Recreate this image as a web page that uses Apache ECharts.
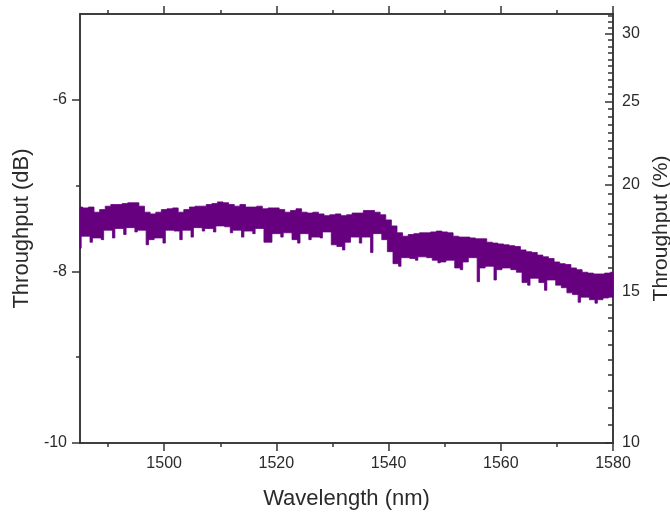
<!DOCTYPE html>
<html>
<head>
<meta charset="utf-8">
<script src="https://cdn.jsdelivr.net/npm/echarts@6/dist/echarts.min.js"></script>
<style>
  html, body { margin: 0; padding: 0; background: #fff; }
  #chart { width: 670px; height: 513px; }
</style>
</head>
<body>
<div id="chart"></div>
<script>
// ---------- data ----------
var wavelength = [
  1485,1486,1487,1488,1489,1490,1491,1492,1493,1494,1495,1496,1497,1498,1499,
  1500,1501,1502,1503,1504,1505,1506,1507,1508,1509,1510,1511,1512,1513,1514,
  1515,1516,1517,1518,1519,1520,1521,1522,1523,1524,1525,1526,1527,1528,1529,
  1530,1531,1532,1533,1534,1535,1536,1537,1538,1539,1540,1541,1542,1543,1544,
  1545,1546,1547,1548,1549,1550,1551,1552,1553,1554,1555,1556,1557,1558,1559,
  1560,1561,1562,1563,1564,1565,1566,1567,1568,1569,1570,1571,1572,1573,1574,
  1575,1576,1577,1578,1579,1580
];
// upper edge of the noisy trace (dB)
var upperDb = [
  -7.25,-7.26,-7.25,-7.31,-7.28,-7.24,-7.22,-7.22,-7.21,-7.20,-7.20,-7.24,-7.31,-7.33,-7.31,
  -7.28,-7.27,-7.26,-7.31,-7.28,-7.25,-7.24,-7.24,-7.22,-7.21,-7.19,-7.20,-7.22,-7.24,-7.22,
  -7.25,-7.25,-7.24,-7.27,-7.26,-7.26,-7.28,-7.31,-7.29,-7.27,-7.31,-7.32,-7.31,-7.33,-7.35,
  -7.34,-7.33,-7.35,-7.34,-7.32,-7.32,-7.29,-7.29,-7.31,-7.34,-7.40,-7.47,-7.55,-7.59,-7.57,
  -7.56,-7.55,-7.55,-7.54,-7.53,-7.54,-7.55,-7.59,-7.60,-7.60,-7.61,-7.62,-7.62,-7.66,-7.67,
  -7.68,-7.69,-7.70,-7.71,-7.75,-7.77,-7.78,-7.81,-7.83,-7.85,-7.89,-7.91,-7.92,-7.96,-7.98,
  -8.01,-8.02,-8.03,-8.03,-8.02,-8.01
];
// lower edge of the noisy trace (dB), including the downward spikes
var lowerDb = [
  -7.73,-7.59,-7.66,-7.61,-7.63,-7.52,-7.61,-7.50,-7.57,-7.49,-7.54,-7.52,-7.69,-7.63,-7.61,
  -7.67,-7.52,-7.53,-7.63,-7.52,-7.60,-7.49,-7.53,-7.50,-7.54,-7.47,-7.48,-7.55,-7.52,-7.60,
  -7.53,-7.56,-7.50,-7.66,-7.66,-7.56,-7.60,-7.55,-7.63,-7.67,-7.56,-7.63,-7.60,-7.61,-7.54,
  -7.69,-7.71,-7.75,-7.66,-7.60,-7.67,-7.60,-7.78,-7.56,-7.63,-7.77,-7.91,-7.94,-7.84,-7.85,
  -7.87,-7.83,-7.84,-7.87,-7.90,-7.89,-7.87,-7.96,-7.98,-7.89,-7.84,-8.12,-7.96,-7.94,-8.10,
  -7.98,-7.96,-7.98,-8.01,-8.13,-8.16,-8.08,-8.13,-8.22,-8.10,-8.16,-8.19,-8.25,-8.27,-8.36,
  -8.30,-8.33,-8.37,-8.33,-8.31,-8.30
];

// ---------- axes / ticks ----------
var xMajorTicks = [1500, 1520, 1540, 1560, 1580];
var xMinorTicks = [1490, 1510, 1530, 1550, 1570];
var yMajorTicks = [-10, -8, -6];
var yMinorTicks = [-9, -7];
var pctMajorTicks = [10, 15, 20, 25, 30];
var pctMinorTicks = [10.5,11,11.5,12,12.5,13,13.5,14,14.5,15.5,16,16.5,17,17.5,18,18.5,19,19.5,
                     20.5,21,21.5,22,22.5,23,23.5,24,24.5,25.5,26,26.5,27,27.5,28,28.5,29,29.5,30.5,31,31.5];

function pctToDb(p) { return 10 * Math.log10(p / 100); }
function dbToPct(d) { return 100 * Math.pow(10, d / 10); }

var FONT = "'Liberation Sans', Arial, sans-serif";
var TXT = '#2a2a2a';
var AX = '#333333';
var PURPLE = '#66007f';

var lineStyle = { color: AX, width: 1.5 };

function xAx(pos, ticks, len, withLabels, name) {
  return {
    type: 'value', position: pos, min: 1485, max: 1580,
    name: name || '', nameLocation: 'middle', nameGap: 45,
    nameTextStyle: { fontFamily: FONT, fontSize: 22, color: TXT },
    axisLine: { show: true, onZero: false, lineStyle: lineStyle },
    axisTick: { show: true, inside: false, length: len, customValues: ticks, lineStyle: lineStyle },
    axisLabel: withLabels ? {
      show: true, customValues: ticks, margin: 13, fontFamily: FONT, fontSize: 16, color: TXT,
      formatter: function (v) { return String(v); }
    } : { show: false },
    splitLine: { show: false }
  };
}

var seriesData = wavelength.map(function (w, i) { return [w, upperDb[i], lowerDb[i]]; });

var option = {
  backgroundColor: '#ffffff',
  animation: false,
  grid: { left: 80, right: 57, top: 14, bottom: 70, containLabel: false, outerBoundsMode: 'none' },
  xAxis: [
    xAx('bottom', xMajorTicks, 8, true, 'Wavelength (nm)'),
    xAx('bottom', xMinorTicks, 4, false),
    xAx('top', xMajorTicks, 8, false),
    xAx('top', xMinorTicks, 4, false)
  ],
  yAxis: [
    {
      type: 'value', position: 'left', min: -10, max: -5,
      name: 'Throughput (dB)', nameLocation: 'middle', nameGap: 43, nameRotate: 90,
      nameTextStyle: { fontFamily: FONT, fontSize: 22, color: TXT },
      axisLine: { show: true, onZero: false, lineStyle: lineStyle },
      axisTick: { show: true, inside: false, length: 8, customValues: yMajorTicks, lineStyle: lineStyle },
      axisLabel: { show: true, customValues: yMajorTicks, margin: 13, fontFamily: FONT, fontSize: 16, color: TXT },
      splitLine: { show: false }
    },
    {
      type: 'value', position: 'left', min: -10, max: -5,
      axisLine: { show: true, onZero: false, lineStyle: lineStyle },
      axisTick: { show: true, inside: false, length: 4, customValues: yMinorTicks, lineStyle: lineStyle },
      axisLabel: { show: false },
      splitLine: { show: false }
    },
    {
      type: 'value', position: 'right', min: -10, max: -5,
      name: 'Throughput (%)', nameLocation: 'middle', nameGap: 36, nameRotate: 90,
      nameTextStyle: { fontFamily: FONT, fontSize: 21, color: TXT },
      axisLine: { show: true, onZero: false, lineStyle: lineStyle },
      axisTick: { show: true, inside: true, length: 8, customValues: pctMajorTicks.map(pctToDb), lineStyle: lineStyle },
      axisLabel: {
        show: true, customValues: pctMajorTicks.map(pctToDb), margin: 9,
        fontFamily: FONT, fontSize: 16, color: TXT,
        formatter: function (v) { return String(Math.round(dbToPct(v))); }
      },
      splitLine: { show: false }
    },
    {
      type: 'value', position: 'right', min: -10, max: -5,
      axisLine: { show: true, onZero: false, lineStyle: lineStyle },
      axisTick: { show: true, inside: true, length: 5, customValues: pctMinorTicks.map(pctToDb), lineStyle: lineStyle },
      axisLabel: { show: false },
      splitLine: { show: false }
    }
  ],
  series: [
    {
      type: 'custom',
      xAxisIndex: 0, yAxisIndex: 0,
      data: seriesData,
      encode: { x: 0, y: [1, 2] },
      renderItem: function (params, api) {
        if (params.dataIndex !== 0) { return null; }
        var n = wavelength.length;
        var xMin = api.coord([wavelength[0], -7.5])[0];
        var xMax = api.coord([wavelength[n - 1], -7.5])[0];
        var up = [], lo = [], i;
        for (i = 0; i < n; i++) {
          up.push(api.coord([wavelength[i], upperDb[i]]));
          lo.push(api.coord([wavelength[i], lowerDb[i]]));
        }
        var half = n > 1 ? (up[1][0] - up[0][0]) / 2 : 2;
        var clampX = function (x) { return Math.max(xMin, Math.min(xMax, x)); };
        var pts = [];
        // upper edge: small steps, left to right
        for (i = 0; i < n; i++) {
          pts.push([clampX(up[i][0] - half), up[i][1]]);
          pts.push([clampX(up[i][0] + half), up[i][1]]);
        }
        // lower edge: narrow downward spikes, right to left
        var sw = 1.2;
        for (i = n - 1; i >= 0; i--) {
          var y = lo[i][1];
          var R = i < n - 1 ? Math.min(y, lo[i + 1][1]) : y;
          var L = i > 0 ? Math.min(y, lo[i - 1][1]) : y;
          pts.push([clampX(lo[i][0] + sw), R]);
          pts.push([clampX(lo[i][0] + sw), y]);
          pts.push([clampX(lo[i][0] - sw), y]);
          pts.push([clampX(lo[i][0] - sw), L]);
        }
        return {
          type: 'polygon',
          shape: { points: pts },
          style: { fill: PURPLE, stroke: PURPLE, lineWidth: 0.8 }
        };
      }
    }
  ]
};

var chart = echarts.init(document.getElementById('chart'), null, { renderer: 'canvas' });
chart.setOption(option);
</script>
</body>
</html>
